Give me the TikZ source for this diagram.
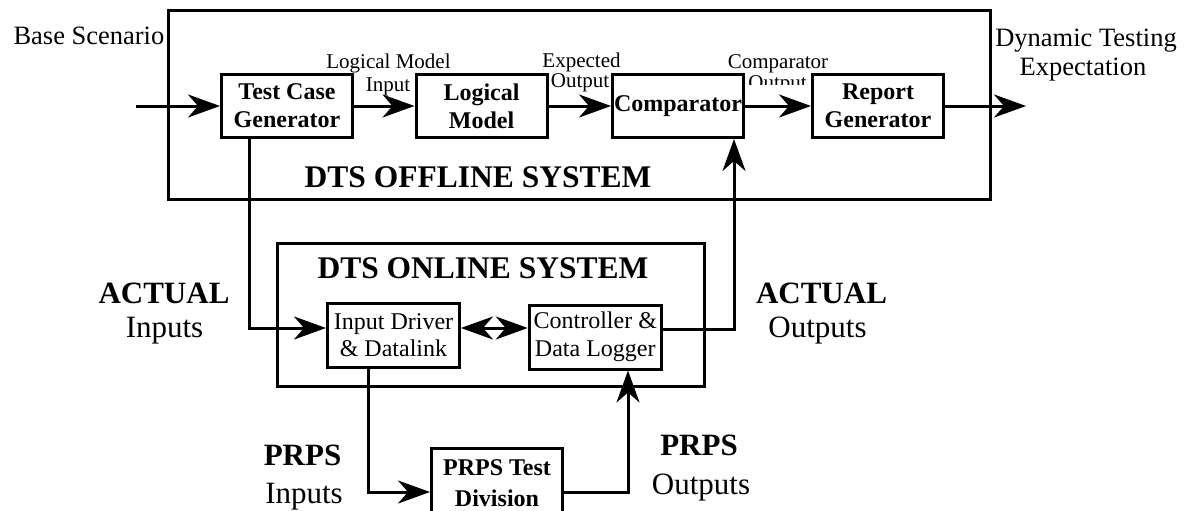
\documentclass[tikz,border=0pt]{standalone}
\usepackage{fontspec}
\setmainfont{Liberation Serif}
\usetikzlibrary{arrows.meta}
\begin{document}
\begin{tikzpicture}[x=1pt,y=-1pt,
  line width=3pt,
  box/.style={draw, line width=3pt, inner sep=0pt, minimum width=131pt, minimum height=63pt, align=center},
  bbox/.style={box, font=\fontsize{24}{28}\selectfont\bfseries},
  rbox/.style={box, minimum width=132pt, minimum height=64pt, font=\fontsize{24}{27.5}\selectfont},
  frame/.style={draw, line width=3pt, inner sep=0pt},
  lbl/.style={inner sep=0pt, anchor=base},
  small/.style={lbl, font=\fontsize{21}{24}\selectfont},
  mid/.style={lbl, font=\fontsize{26.5}{30}\selectfont},
  big/.style={lbl, font=\fontsize{31}{34}\selectfont},
  bigb/.style={lbl, font=\fontsize{31}{34}\selectfont\bfseries},
  title/.style={lbl, font=\fontsize{31.5}{34}\selectfont\bfseries},
  arr/.style={-{Stealth[length=32pt,width=23pt,inset=10pt]}, line width=3pt},
  darr/.style={{Stealth[length=32pt,width=23pt,inset=10pt]}-{Stealth[length=32pt,width=23pt,inset=10pt]}, line width=3pt},
]
\useasboundingbox (0,0) rectangle (1191,511);

% containers
\node[frame, minimum width=822.5pt, minimum height=189pt] (off) at (579.25,105) {};
\node[frame, minimum width=426.5pt, minimum height=143pt] (on) at (490.75,315) {};

% blocks
\node[bbox] (tcg) at (287,106) {Test Case\\Generator};
\node[bbox] (lm) at (481.5,106) {Logical\\Model};
\node[bbox] (cmp) at (678,106) {Comparator};
\node[bbox] (rg) at (878,106) {Report\\Generator};
\node[rbox] (idl) at (393.5,335) {Input Driver\\\& Datalink};
\node[rbox] (cdl) at (595.25,337) {Controller \&\\Data Logger};
\node[bbox, minimum height=70pt, font=\fontsize{24}{31}\selectfont\bfseries] (ptd) at (497,483) {PRPS Test\\Division};

% connectors
\coordinate (bsin) at (136,106);
\coordinate (dte) at (1026,106);
\draw[arr] (bsin) -- (tcg.west);
\draw[arr] (tcg.east) -- (lm.west);
\draw[arr] (lm.east) -- (cmp.west);
\draw[arr] (cmp.east) -- (rg.west);
\draw[arr] (rg.east) -- (dte);
\coordinate (c1) at (249,328);
\draw[arr] (tcg.south -| c1) |- (idl.west |- c1);
\coordinate (c2) at (368,492);
\draw[arr] (idl.south -| c2) |- (ptd.west |- c2);
\coordinate (c3) at (628,492);
\draw[arr] (ptd.east |- c3) -| (cdl.south -| c3);
\coordinate (c4) at (734,329);
\draw[arr] (cdl.east |- c4) -| (cmp.south -| c4);
\coordinate (c5) at (495,328);
\draw[darr] (idl.east |- c5) -- (cdl.west |- c5);

% labels
\node[mid, anchor=base west] (bs) at (12,45) {Base Scenario};
\node[small] (lmi1) at (388.5,68) {Logical Model};
\node[small] (lmi2) at (388,92) {Input};
\node[small] (eo1) at (581.5,67) {Expected};
\node[small] (eo2) at (580,87) {Output};
\node[small] (co1) at (778,68) {Comparator};
\begin{scope}
  \clip (720,60) rectangle (840,84.5);
  \node[small] (co2) at (777.5,89) {Output};
\end{scope}
\node[mid] (dt1) at (1086,47) {Dynamic Testing};
\node[mid] (dt2) at (1083,76) {Expectation};
\node[title] (offt) at (478,187) {DTS OFFLINE SYSTEM};
\node[title] (ont) at (483,278) {DTS ONLINE SYSTEM};
\node[bigb] (ai1) at (164,303) {ACTUAL};
\node[big] (ai2) at (164.5,337) {Inputs};
\node[bigb] (ao1) at (821.5,303) {ACTUAL};
\node[big] (ao2) at (817.5,337) {Outputs};
\node[bigb] (pi1) at (302.5,465) {PRPS};
\node[big] (pi2) at (304,503) {Inputs};
\node[bigb] (po1) at (699,455) {PRPS};
\node[big] (po2) at (701,494) {Outputs};
\end{tikzpicture}
\end{document}
